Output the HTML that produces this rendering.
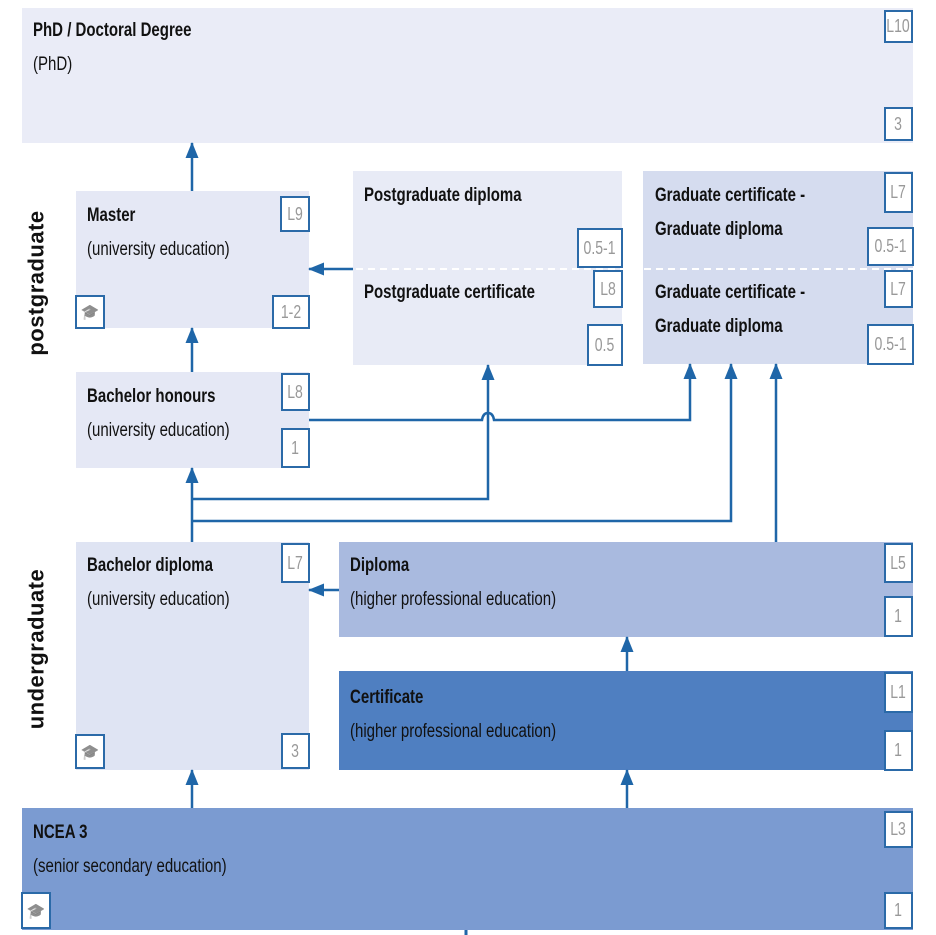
<!DOCTYPE html>
<html><head><style>
body{margin:0;width:936px;height:935px;background:#fff;position:relative;overflow:hidden;font-family:"Liberation Sans",sans-serif}
.b{position:absolute}
.t{position:absolute;font-size:19px;color:#111;line-height:34px;transform:scaleX(0.79);transform-origin:left top;white-space:nowrap}
.t b{font-weight:bold}
.g{position:absolute;background:#fff;border:2px solid #2b6aa8;box-sizing:border-box;color:#999;font-size:18px;display:flex;align-items:center;justify-content:center}
.g span{display:inline-block;transform:scaleX(0.78)}
.cap span{font-size:15px;filter:grayscale(1) opacity(0.6);transform:none}
.v{position:absolute;font-weight:bold;font-size:22px;color:#111;transform:rotate(-90deg);white-space:nowrap;letter-spacing:0.5px}
</style></head><body>
<div class="b" style="left:22px;top:8px;width:891px;height:135px;background:#eaecf7"></div>
<div class="b" style="left:76px;top:191px;width:233px;height:137px;background:#e5e8f5"></div>
<div class="b" style="left:76px;top:372px;width:233px;height:96px;background:#e5e8f5"></div>
<div class="b" style="left:353px;top:171px;width:269px;height:194px;background:#e8ebf6"></div>
<div class="b" style="left:643px;top:171px;width:270px;height:193px;background:#d5dcef"></div>
<div class="b" style="left:76px;top:542px;width:233px;height:228px;background:#dfe4f3"></div>
<div class="b" style="left:339px;top:542px;width:574px;height:95px;background:#a9badf"></div>
<div class="b" style="left:339px;top:671px;width:574px;height:99px;background:#4f7fc1"></div>
<div class="b" style="left:22px;top:808px;width:891px;height:122px;background:#7b9bd1"></div>

<div class="t" style="left:33px;top:14px"><b>PhD / Doctoral Degree</b><br>(PhD)</div>
<div class="t" style="left:87px;top:199px"><b>Master</b><br>(university education)</div>
<div class="t" style="left:87px;top:380px"><b>Bachelor honours</b><br>(university education)</div>
<div class="t" style="left:364px;top:179px"><b>Postgraduate diploma</b></div>
<div class="t" style="left:364px;top:276px"><b>Postgraduate certificate</b></div>
<div class="t" style="left:655px;top:179px"><b>Graduate certificate -<br>Graduate diploma</b></div>
<div class="t" style="left:655px;top:276px"><b>Graduate certificate -<br>Graduate diploma</b></div>
<div class="t" style="left:87px;top:549px"><b>Bachelor diploma</b><br>(university education)</div>
<div class="t" style="left:350px;top:549px"><b>Diploma</b><br>(higher professional education)</div>
<div class="t" style="left:350px;top:681px"><b>Certificate</b><br>(higher professional education)</div>
<div class="t" style="left:33px;top:816px"><b>NCEA 3</b><br>(senior secondary education)</div>

<div class="v" style="left:-36px;top:270px">postgraduate</div>
<div class="v" style="left:-44px;top:636px">undergraduate</div>

<div class="g" style="left:884px;top:10px;width:29px;height:33px"><span>L10</span></div>
<div class="g" style="left:884px;top:107px;width:29px;height:34px"><span>3</span></div>
<div class="g" style="left:280px;top:196px;width:30px;height:36px"><span>L9</span></div>
<div class="g" style="left:272px;top:295px;width:38px;height:34px"><span>1-2</span></div>
<div class="g cap" style="left:75px;top:295px;width:30px;height:34px"><span>🎓</span></div>
<div class="g" style="left:281px;top:373px;width:29px;height:38px"><span>L8</span></div>
<div class="g" style="left:281px;top:428px;width:29px;height:40px"><span>1</span></div>
<div class="g" style="left:577px;top:228px;width:46px;height:40px"><span>0.5-1</span></div>
<div class="g" style="left:593px;top:270px;width:30px;height:38px"><span>L8</span></div>
<div class="g" style="left:587px;top:324px;width:36px;height:42px"><span>0.5</span></div>
<div class="g" style="left:884px;top:172px;width:29px;height:41px"><span>L7</span></div>
<div class="g" style="left:867px;top:227px;width:47px;height:39px"><span>0.5-1</span></div>
<div class="g" style="left:884px;top:270px;width:29px;height:38px"><span>L7</span></div>
<div class="g" style="left:867px;top:324px;width:47px;height:41px"><span>0.5-1</span></div>
<div class="g" style="left:281px;top:543px;width:29px;height:40px"><span>L7</span></div>
<div class="g cap" style="left:75px;top:734px;width:30px;height:35px"><span>🎓</span></div>
<div class="g" style="left:281px;top:733px;width:29px;height:36px"><span>3</span></div>
<div class="g" style="left:884px;top:543px;width:29px;height:40px"><span>L5</span></div>
<div class="g" style="left:884px;top:596px;width:29px;height:41px"><span>1</span></div>
<div class="g" style="left:884px;top:672px;width:29px;height:41px"><span>L1</span></div>
<div class="g" style="left:884px;top:730px;width:29px;height:41px"><span>1</span></div>
<div class="g" style="left:884px;top:811px;width:29px;height:37px"><span>L3</span></div>
<div class="g cap" style="left:21px;top:892px;width:30px;height:37px"><span>🎓</span></div>
<div class="g" style="left:884px;top:892px;width:29px;height:37px"><span>1</span></div>

<svg class="b" style="left:0;top:0" width="936" height="935">
<defs><marker id="a" markerWidth="16" markerHeight="14" refX="15" refY="6.5" orient="auto" markerUnits="userSpaceOnUse"><path d="M0,0 L16,6.5 L0,13 Z" fill="#1f66a8"/></marker></defs>
<g stroke="#1f66a8" stroke-width="3" fill="none">
<line x1="320" y1="269" x2="913" y2="269" stroke="#fff" stroke-width="2" stroke-dasharray="7,5"/>
<g marker-end="url(#a)" stroke-width="2.5">
<line x1="192" y1="191" x2="192" y2="143"/>
<line x1="192" y1="372" x2="192" y2="328"/>
<line x1="192" y1="542" x2="192" y2="468"/>
<polyline points="192,499 488,499 488,365"/>
<polyline points="192,521 731,521 731,364"/>
<path d="M309,420 L482,420 Q483,413 488,413 Q493,413 494,420 L690,420 L690,364"/>
<line x1="776" y1="542" x2="776" y2="364"/>
<line x1="339" y1="590" x2="309" y2="590"/>
<line x1="353" y1="269" x2="309" y2="269"/>
<line x1="627" y1="671" x2="627" y2="637"/>
<line x1="627" y1="808" x2="627" y2="770"/>
<line x1="192" y1="808" x2="192" y2="770"/>
</g>
<line x1="466" y1="930" x2="466" y2="935"/>
</g>
</svg>
</body></html>
